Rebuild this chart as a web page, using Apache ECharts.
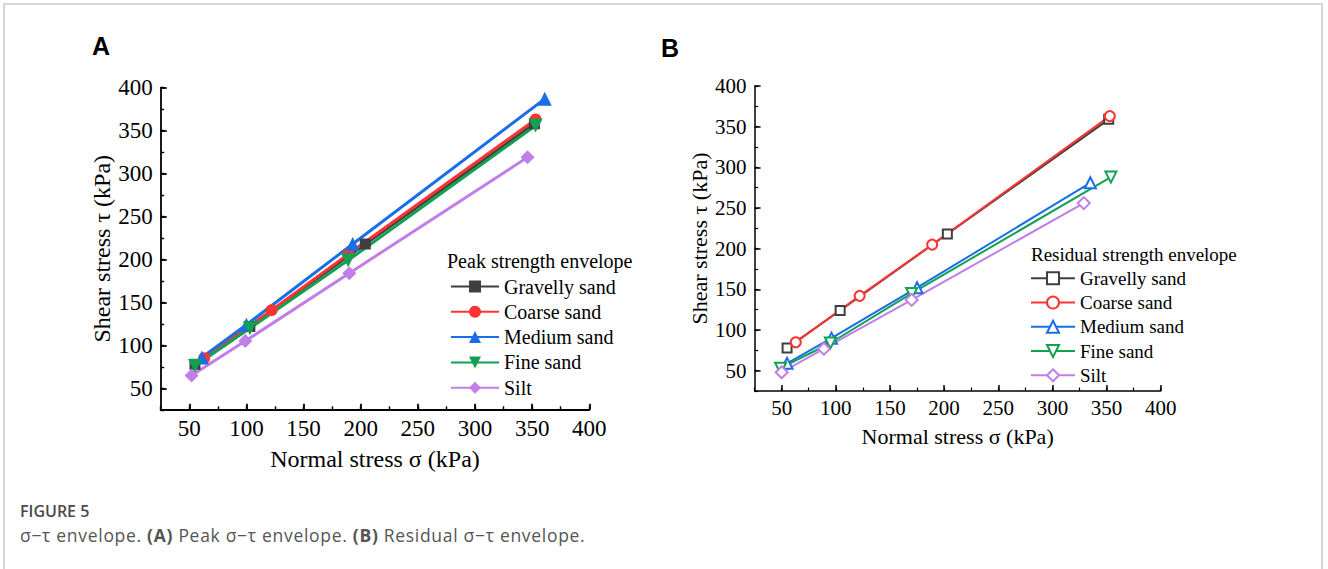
<!DOCTYPE html>
<html>
<head>
<meta charset="utf-8">
<script src="https://cdn.jsdelivr.net/npm/echarts@6/dist/echarts.min.js"></script>
<style>
  html, body { margin: 0; padding: 0; background: #fff; }
  #page { position: relative; width: 1328px; height: 569px; overflow: hidden; background: #fff; }
  #frame { position: absolute; left: 3px; top: 3px; width: 1320px; height: 640px; border: 2px solid #d6d6d6; box-sizing: border-box; }
  .chart { position: absolute; left: 0; top: 0; width: 1328px; height: 480px; }
  #caption { position: absolute; left: 20px; top: 499px; font-family: "Open Sans", "Noto Sans", sans-serif; color: #555; font-size: 16px; line-height: 24px; }
  #caption .fig { font-weight: 600; color: #4a4a4a; }
  #caption .text { font-size: 17.5px; letter-spacing: 0.7px; }
  #caption b { font-weight: 700; }
</style>
</head>
<body>
<div id="page">
  <div id="frame"></div>
  <div id="chartA" class="chart"></div>
  <div id="chartB" class="chart"></div>
  <div id="caption">
    <div class="fig">FIGURE 5</div>
    <div class="text">σ−τ envelope. <b>(A)</b> Peak σ−τ envelope. <b>(B)</b> Residual σ−τ envelope.</div>
  </div>
</div>
<script>
// Soil types, shared by both panels
const soils = ['Gravelly sand', 'Coarse sand', 'Medium sand', 'Fine sand', 'Silt'];
const soilColors = ['#3f3f3f', '#ff3333', '#1a6ee6', '#12a052', '#c17ee8'];

// Axis tick labels (kPa) for both axes of both panels
const stressTicks = [50, 100, 150, 200, 250, 300, 350, 400];

// Peak strength envelope: [normal stress σ, shear stress τ] in kPa
const peakGravelly = [[55, 78], [103, 122], [204, 218], [352, 358]];
const peakCoarse   = [[63, 85], [122, 141], [189, 206], [353, 363]];
const peakMedium   = [[61, 86], [100, 124], [193, 218], [361, 387]];
const peakFine     = [[55, 76], [103, 120], [189, 199], [353, 356]];
const peakSilt     = [[52, 65], [99, 105], [190, 184], [346, 319]];

// Residual strength envelope: [normal stress σ, shear stress τ] in kPa
const resGravelly = [[55, 78], [104, 124], [203, 218], [352, 359]];
const resCoarse   = [[63, 85], [122, 142], [189, 205], [353, 363]];
const resMedium   = [[55, 59], [96, 90], [175, 152], [335, 281]];
const resFine     = [[49, 53], [95, 84], [170, 145], [354, 288]];
const resSilt     = [[50, 48], [89, 77], [170, 137], [329, 256]];

const peakData = [peakGravelly, peakCoarse, peakMedium, peakFine, peakSilt];
const resData = [resGravelly, resCoarse, resMedium, resFine, resSilt];

const SERIF = 'Liberation Serif';

function buildOption(p) {
  const grid = { left: p.left, top: p.top, width: p.width, height: p.height };
  const mainAxis = (isX) => ({
    type: 'value', gridIndex: 0, min: 25, max: 400,
    axisLine: { show: true, lineStyle: { color: '#000', width: p.axisWidth } },
    axisTick: { show: true, inside: true, length: 6, customValues: stressTicks, lineStyle: { color: '#000', width: p.axisWidth } },
    axisLabel: { customValues: stressTicks, color: '#000', fontFamily: SERIF, fontSize: p.tickFont, margin: isX ? p.xLabelMargin : 8 },
    splitLine: { show: false },
    name: isX ? 'Normal stress σ (kPa)' : 'Shear stress τ (kPa)',
    nameLocation: 'middle',
    nameGap: isX ? p.xNameGap : p.yNameGap,
    nameTextStyle: { color: '#000', fontFamily: SERIF, fontSize: p.nameFont }
  });
  // second, tick-only axis pair carrying the minor ticks every 25 kPa
  const minorAxis = () => ({
    type: 'value', gridIndex: 1, min: 25, max: 400, interval: 25,
    axisLine: { show: false },
    axisTick: { show: true, inside: true, length: 3.5, lineStyle: { color: '#000', width: p.axisWidth * 0.8 } },
    axisLabel: { show: false },
    splitLine: { show: false }
  });
  const series = soils.map((name, i) => ({
    name: name,
    type: 'line',
    xAxisIndex: 0, yAxisIndex: 0,
    data: p.data[i],
    symbol: p.symbols[i],
    symbolSize: p.symbolSizes[i],
    symbolRotate: i === 3 ? 180 : 0,
    showAllSymbol: true,
    lineStyle: { color: soilColors[i], width: p.lineWidth },
    itemStyle: p.hollow
      ? { color: soilColors[i], borderColor: soilColors[i], borderWidth: 1.5 }
      : { color: soilColors[i] },
    emphasis: { disabled: true },
    animation: false
  }));
  return {
    animation: false,
    textStyle: { fontFamily: SERIF, color: '#000' },
    title: [
      { text: p.label, left: p.labelX, top: p.labelY, padding: 0,
        textStyle: { fontFamily: 'Liberation Sans', fontWeight: 'bold', fontSize: 25, color: '#000' } },
      { text: p.legendTitle, left: p.legendTitleX, top: p.legendTitleY, padding: 0,
        textStyle: { fontFamily: SERIF, fontWeight: 'normal', fontSize: p.legendFont, color: '#000', lineHeight: p.legendFont } }
    ],
    legend: {
      orient: 'vertical', left: p.legendX, top: p.legendY, padding: 0,
      itemWidth: p.legendItemWidth, itemHeight: 15, itemGap: p.legendGap,
      textStyle: { fontFamily: SERIF, fontSize: p.legendFont, color: '#000', lineHeight: p.legendFont },
      selectedMode: false,
      data: soils
    },
    grid: [grid, Object.assign({}, grid)],
    xAxis: [mainAxis(true), minorAxis()],
    yAxis: [mainAxis(false), minorAxis()],
    series: series
  };
}

const chartA = echarts.init(document.getElementById('chartA'), null, { renderer: 'svg' });
chartA.setOption(buildOption({
  left: 160.7, top: 87.7, width: 428.6, height: 322.1,
  axisWidth: 1.8, tickFont: 23, nameFont: 24, xLabelMargin: 7, xNameGap: 37, yNameGap: 46,
  label: 'A', labelX: 92, labelY: 33,
  legendTitle: 'Peak strength envelope', legendTitleX: 447, legendTitleY: 251,
  legendX: 450, legendY: 276.5, legendItemWidth: 48, legendGap: 5.3, legendFont: 20,
  data: peakData, hollow: false, lineWidth: 3,
  symbols: ['rect', 'circle', 'triangle', 'triangle', 'diamond'],
  symbolSizes: [11, 12, 14, 14, 14]
}));

const chartB = echarts.init(document.getElementById('chartB'), null, { renderer: 'svg' });
chartB.setOption(buildOption({
  left: 754.6, top: 86, width: 406.1, height: 305,
  axisWidth: 1.5, tickFont: 21, nameFont: 22, xLabelMargin: 6, xNameGap: 34, yNameGap: 44,
  label: 'B', labelX: 661, labelY: 35,
  legendTitle: 'Residual strength envelope', legendTitleX: 1031, legendTitleY: 245,
  legendX: 1030, legendY: 268.8, legendItemWidth: 44, legendGap: 5.25, legendFont: 19,
  data: resData, hollow: true, lineWidth: 2,
  symbols: ['emptyRect', 'emptyCircle', 'emptyTriangle', 'emptyTriangle', 'emptyDiamond'],
  symbolSizes: [9, 10, 11, 11, 12]
}));
</script>
</body>
</html>
